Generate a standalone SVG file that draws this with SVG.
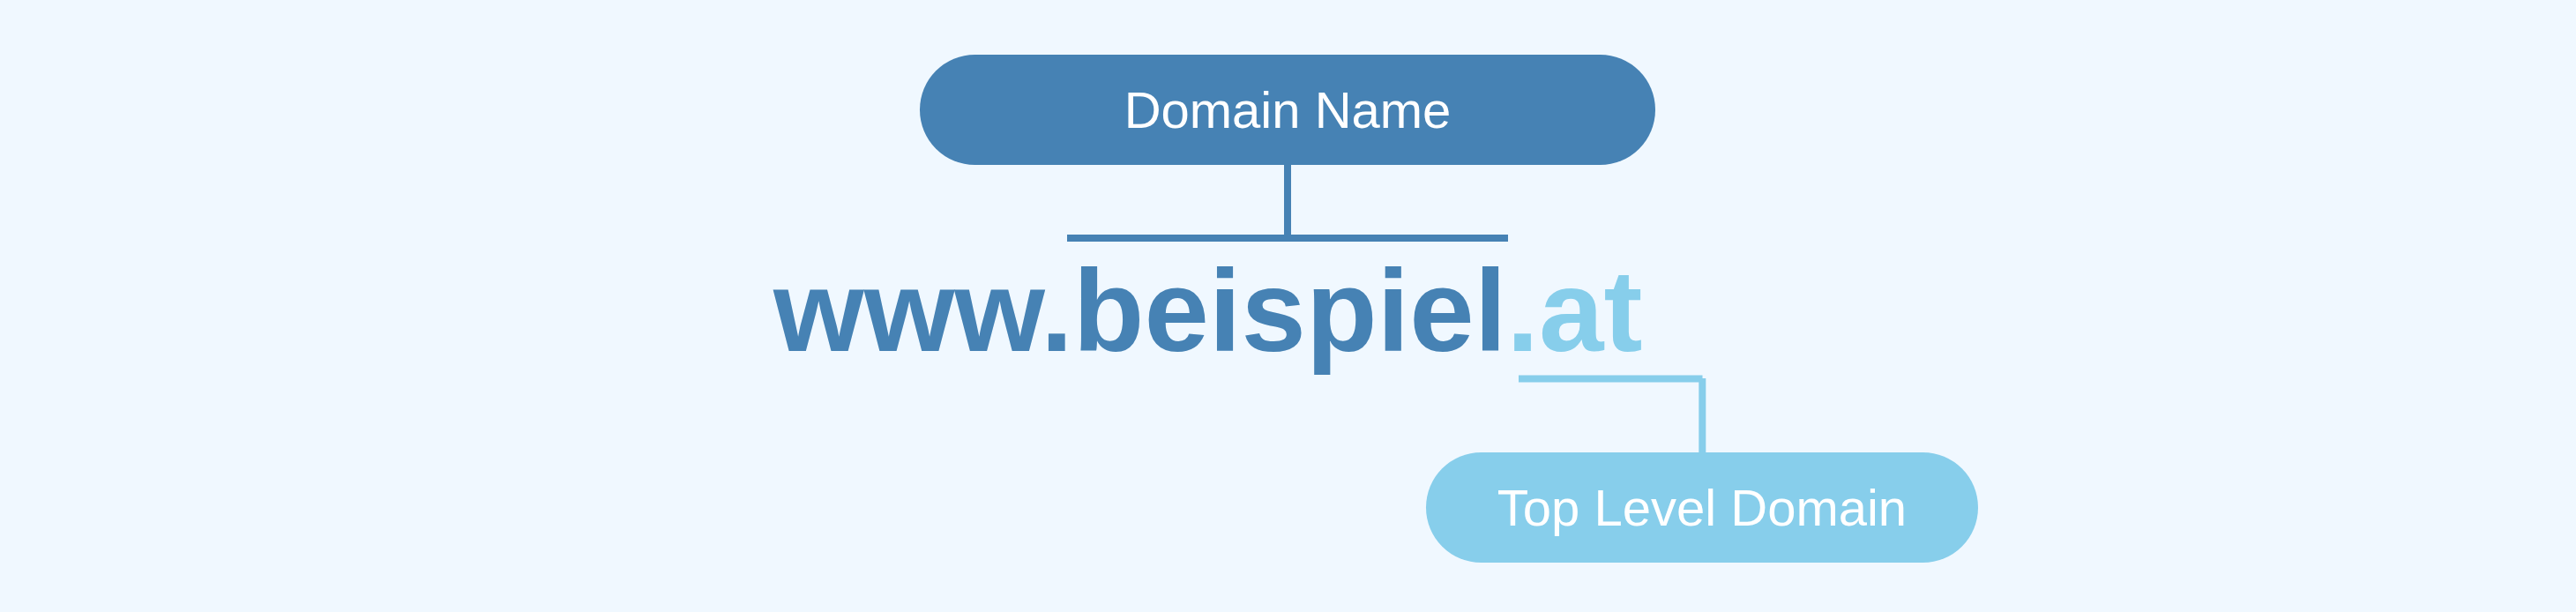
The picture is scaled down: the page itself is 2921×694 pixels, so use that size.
<svg xmlns="http://www.w3.org/2000/svg" width="2921" height="694" viewBox="0 0 2921 694">
<style>
.bg{fill:#F0F8FF}
.pill-dark{fill:#4682B4}
.pill-light{fill:#87CEEB}
.label{font-family:"Liberation Sans",Arial,sans-serif;font-size:58px;fill:#FFFFFF;text-anchor:middle}
.url{font-family:"Liberation Sans",Arial,sans-serif;font-size:132px;font-weight:bold}
.dark{fill:#4682B4}
.light{fill:#87CEEB}
.conn-dark{stroke:#4682B4;stroke-width:8;fill:none;stroke-linecap:butt}
.conn-light{stroke:#87CEEB;stroke-width:8;fill:none;stroke-linecap:butt}
</style>
<rect class="bg" x="0" y="0" width="2921" height="694"/>
<g id="connectors">
<line class="conn-dark" x1="1460" y1="186" x2="1460" y2="266"/>
<line class="conn-dark" x1="1210" y1="270" x2="1710" y2="270"/>
<line class="conn-light" x1="1722" y1="429.5" x2="1930.5" y2="429.5"/>
<line class="conn-light" x1="1930.3" y1="429" x2="1930.3" y2="513"/>
</g>
<g id="domain-name">
<rect class="pill-dark" x="1043" y="62" width="834" height="125" rx="62.5" ry="62.5"/>
<text class="label" x="1460" y="145">Domain Name</text>
</g>
<g id="url">
<text class="url" x="877" y="398"><tspan class="dark">www.beispiel</tspan><tspan class="light">.at</tspan></text>
</g>
<g id="top-level-domain">
<rect class="pill-light" x="1617" y="513" width="626" height="125" rx="62.5" ry="62.5"/>
<text class="label" x="1930" y="596">Top Level Domain</text>
</g>
</svg>
